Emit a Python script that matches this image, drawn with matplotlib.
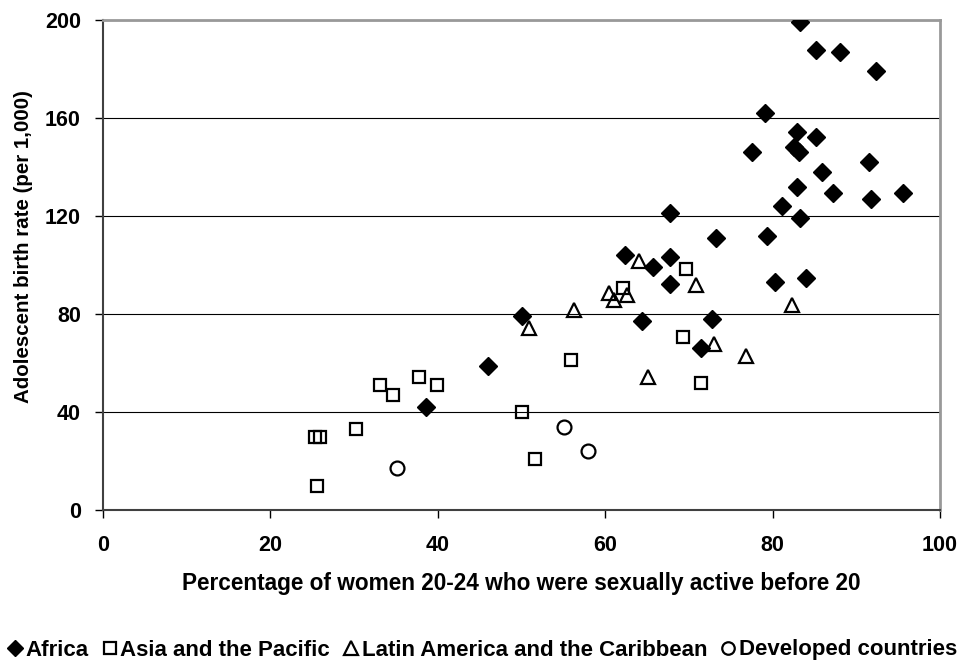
import matplotlib
matplotlib.use("Agg")
from matplotlib import pyplot as plt

plt.rcParams['font.family'] = ['Liberation Sans', 'DejaVu Sans']
plt.rcParams['font.weight'] = 'bold'

# Africa
africa_x = [38.6, 46.0, 50.1, 64.4, 62.4, 65.7, 67.8, 67.7, 67.8, 73.2, 72.8, 71.5,
            80.3, 84.0, 79.3, 81.1, 83.3, 82.9, 87.2, 91.8, 95.6, 91.5, 85.9, 77.5,
            82.6, 83.2, 82.9, 85.2, 79.1, 92.4, 88.1, 85.2, 83.3]
africa_y = [41.9, 58.9, 79.2, 77.1, 104.0, 99.1, 103.1, 92.1, 121.1, 111.1, 78.0, 66.0,
            93.1, 94.8, 112.0, 124.1, 119.1, 132.0, 129.3, 126.9, 129.3, 141.9, 137.8, 146.0,
            148.3, 146.0, 154.4, 152.1, 162.2, 179.2, 187.1, 187.8, 199.0]

# Asia and the Pacific
asia_x = [25.6, 25.3, 25.9, 30.2, 33.1, 34.6, 37.8, 39.9, 50.1, 51.6, 55.9, 62.1,
          69.7, 69.3, 71.4]
asia_y = [9.9, 30.0, 30.0, 33.0, 51.0, 46.9, 54.2, 51.0, 40.0, 20.8, 61.2, 90.5,
          98.2, 70.5, 52.0]

# Latin America and the Caribbean
latam_x = [50.9, 56.3, 60.5, 61.1, 62.6, 64.0, 65.1, 70.9, 73.0, 76.8, 82.3]
latam_y = [74.2, 81.6, 88.7, 85.7, 87.8, 101.7, 54.4, 91.8, 67.8, 62.9, 83.7]

# Developed countries
dev_x = [35.1, 55.1, 57.9]
dev_y = [17.0, 34.0, 24.1]

fig = plt.figure(figsize=(9.74, 6.67), dpi=100)
ax = fig.add_axes([103/974, 1-510/667, 837/974, 490/667])

ax.plot(africa_x, africa_y, 'D', color='black', markersize=9, label='Africa', zorder=3)
ax.plot(asia_x, asia_y, 's', markerfacecolor='none', markeredgecolor='black',
        markeredgewidth=1.6, markersize=9.3, label='Asia and the Pacific', zorder=3)
ax.plot(latam_x, latam_y, '^', markerfacecolor='none', markeredgecolor='black',
        markeredgewidth=1.6, markersize=10.5, label='Latin America and the Caribbean', zorder=3)
ax.plot(dev_x, dev_y, 'o', markerfacecolor='none', markeredgecolor='black',
        markeredgewidth=1.6, markersize=10, label='Developed countries', zorder=3)

ax.set_xlim(0, 100)
ax.set_ylim(0, 200)
ax.set_xticks([0, 20, 40, 60, 80, 100])
ax.set_yticks([0, 40, 80, 120, 160, 200])
ax.yaxis.grid(True, color='black', linewidth=0.8)
ax.set_axisbelow(True)
ax.tick_params(direction='out', length=6, width=1, labelsize=15.5)
ax.tick_params(axis='x', pad=12)
ax.tick_params(axis='y', pad=10)

for side in ['top', 'right']:
    ax.spines[side].set_color('#999999')
    ax.spines[side].set_linewidth(2)
for side in ['left', 'bottom']:
    ax.spines[side].set_color('#404040')
    ax.spines[side].set_linewidth(1.5)

ax.set_xlabel("Percentage of women 20-24 who were sexually active before 20",
              fontsize=16.3, fontweight='bold')
ax.xaxis.set_label_coords(0.5, -0.1265)
ax.set_ylabel("Adolescent birth rate (per 1,000)", fontsize=14.8, fontweight='bold')
ax.yaxis.set_label_coords(-0.084, 0.537)

fig.legend(loc='center', bbox_to_anchor=(0.495, 1-650/667), ncol=4, frameon=False,
           fontsize=16, handletextpad=0.12, columnspacing=0.6, markerscale=0.9,
           handlelength=0.7)

fig.savefig("out.png", dpi=100)
